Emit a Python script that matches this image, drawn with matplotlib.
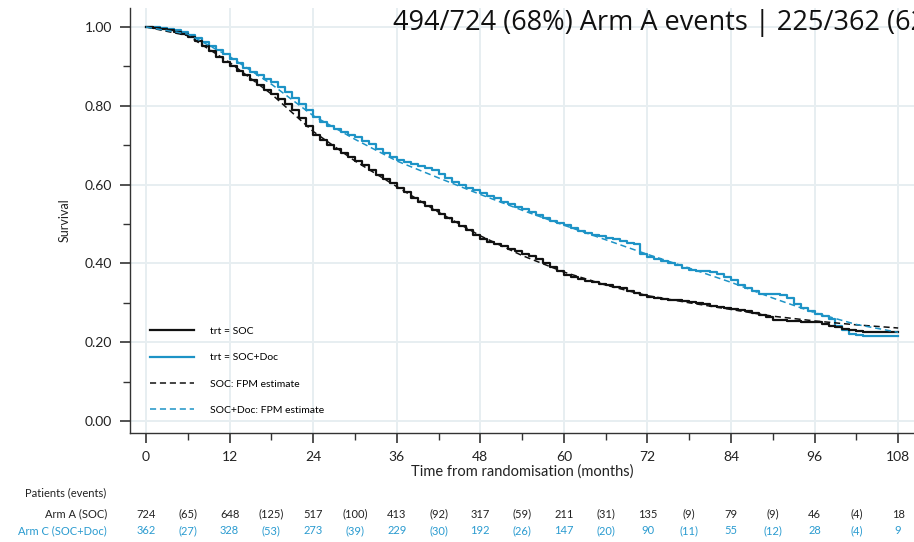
import matplotlib
matplotlib.use("Agg")
import matplotlib.pyplot as plt
import matplotlib.transforms as mtransforms
from matplotlib.lines import Line2D

# Kaplan-Meier survival, read month by month
km_months = list(range(0, 109))
km_soc = [1.000, 0.998, 0.996, 0.992, 0.988, 0.982, 0.975, 0.964, 0.952, 0.939,
          0.925, 0.912, 0.900, 0.889, 0.877, 0.865, 0.852, 0.841, 0.830, 0.818,
          0.805, 0.789, 0.770, 0.748, 0.725, 0.712, 0.700, 0.690, 0.680, 0.670,
          0.660, 0.649, 0.637, 0.625, 0.613, 0.603, 0.592, 0.580, 0.567, 0.557,
          0.546, 0.536, 0.525, 0.515, 0.505, 0.495, 0.485, 0.473, 0.462, 0.455,
          0.448, 0.443, 0.437, 0.431, 0.425, 0.418, 0.410, 0.400, 0.390, 0.380,
          0.371, 0.365, 0.360, 0.356, 0.352, 0.348, 0.344, 0.340, 0.337, 0.331,
          0.325, 0.319, 0.314, 0.312, 0.310, 0.308, 0.307, 0.305, 0.303, 0.300,
          0.297, 0.293, 0.290, 0.288, 0.285, 0.282, 0.279, 0.275, 0.270, 0.263,
          0.257, 0.256, 0.254, 0.253, 0.252, 0.251, 0.250, 0.246, 0.241, 0.238,
          0.234, 0.231, 0.228, 0.227, 0.227, 0.227, 0.227, 0.227, 0.227]
km_doc = [1.000, 0.999, 0.997, 0.995, 0.992, 0.987, 0.980, 0.971, 0.962, 0.952,
          0.942, 0.931, 0.920, 0.908, 0.897, 0.887, 0.877, 0.869, 0.860, 0.848,
          0.835, 0.820, 0.805, 0.789, 0.772, 0.760, 0.748, 0.740, 0.733, 0.727,
          0.720, 0.711, 0.702, 0.691, 0.680, 0.671, 0.663, 0.657, 0.652, 0.648,
          0.643, 0.636, 0.628, 0.617, 0.607, 0.599, 0.592, 0.585, 0.578, 0.572,
          0.565, 0.557, 0.550, 0.544, 0.537, 0.530, 0.522, 0.515, 0.508, 0.503,
          0.497, 0.490, 0.483, 0.478, 0.473, 0.469, 0.465, 0.461, 0.457, 0.453,
          0.449, 0.425, 0.415, 0.410, 0.405, 0.400, 0.395, 0.389, 0.383, 0.381,
          0.380, 0.379, 0.374, 0.365, 0.358, 0.345, 0.338, 0.330, 0.322, 0.322,
          0.322, 0.320, 0.312, 0.298, 0.287, 0.280, 0.272, 0.266, 0.260, 0.240,
          0.232, 0.222, 0.218, 0.216, 0.216, 0.216, 0.216, 0.216, 0.216]

# Flexible parametric model estimates
fpm_months = [0, 6, 12, 18, 24, 30, 36, 42, 48, 54, 60, 66, 72, 78, 84, 90, 96, 102, 108]
fpm_soc = [1.000, 0.978, 0.910, 0.830, 0.735, 0.660, 0.595, 0.530, 0.470, 0.420,
           0.378, 0.345, 0.318, 0.300, 0.283, 0.266, 0.254, 0.244, 0.236]
fpm_doc = [1.000, 0.982, 0.925, 0.855, 0.775, 0.715, 0.660, 0.617, 0.575, 0.535,
           0.497, 0.460, 0.423, 0.388, 0.352, 0.312, 0.275, 0.245, 0.225]

# Numbers at risk and events between time points
risk_months = [0, 12, 24, 36, 48, 60, 72, 84, 96, 108]
event_months = [6, 18, 30, 42, 54, 66, 78, 90, 102]
arm_a_at_risk = [724, 648, 517, 413, 317, 211, 135, 79, 46, 18]
arm_a_events = [65, 125, 100, 92, 59, 31, 9, 9, 4]
arm_c_at_risk = [362, 328, 273, 229, 192, 147, 90, 55, 28, 9]
arm_c_events = [27, 53, 39, 30, 26, 20, 11, 12, 4]

title_text = "494/724 (68%) Arm A events | 225/362 (62%) Arm C events"

BLACK = "#111111"
BLUE = "#1d93c6"
BLUE_TXT = "#2a9bd0"
GRID = "#e7eef1"
FONT = "Lato"

fig = plt.figure(figsize=(9.14, 5.42), dpi=100)
ax = fig.add_axes([0.1422, 0.2011, 0.858, 0.784])

ax.step(km_months, km_soc, where="post", color=BLACK, lw=1.6, zorder=4)
ax.step(km_months, km_doc, where="post", color=BLUE, lw=1.6, zorder=3)
ax.plot(fpm_months, fpm_soc, color=BLACK, lw=1.1, ls=(0, (4, 2.5)), zorder=5)
ax.plot(fpm_months, fpm_doc, color=BLUE, lw=1.1, ls=(0, (4, 2.5)), zorder=5)

ax.set_xlim(-2.3, 110.3)
ax.set_ylim(-0.0305, 1.048)
ax.set_xticks(risk_months)
ax.set_xticks(event_months, minor=True)
ax.set_yticks([0, 0.2, 0.4, 0.6, 0.8, 1.0])
ax.set_yticks([0.1, 0.3, 0.5, 0.7, 0.9], minor=True)
ax.set_yticklabels(["0.00", "0.20", "0.40", "0.60", "0.80", "1.00"])
ax.grid(True, which="major", color=GRID, lw=1.4, zorder=0)
for side in ("top", "right"):
    ax.spines[side].set_visible(False)
for side in ("left", "bottom"):
    ax.spines[side].set_color("#333333")
    ax.spines[side].set_linewidth(1.0)
ax.tick_params(which="major", length=7, width=1.2, color="#333333",
               labelsize=10, pad=6)
ax.tick_params(which="minor", length=5, width=1.0, color="#333333")
for lab in ax.get_xticklabels() + ax.get_yticklabels():
    lab.set_fontfamily(FONT)
    lab.set_color("#222222")

ax.set_xlabel("Time from randomisation (months)", fontsize=10.5, family=FONT,
              color="#222222", labelpad=1)
ax.set_ylabel("Survival", fontsize=9, family=FONT, color="#222222", labelpad=10)

handles = [
    Line2D([], [], color=BLACK, lw=1.6),
    Line2D([], [], color=BLUE, lw=1.6),
    Line2D([], [], color=BLACK, lw=1.1, ls=(0, (4, 2.5))),
    Line2D([], [], color=BLUE, lw=1.1, ls=(0, (4, 2.5))),
]
labels = ["trt = SOC", "trt = SOC+Doc", "SOC: FPM estimate", "SOC+Doc: FPM estimate"]
ax.legend(handles, labels, loc="lower left", bbox_to_anchor=(0.014, 0.02),
          frameon=False, prop={"family": FONT, "size": 7.5},
          handlelength=4.2, handletextpad=1.5, labelspacing=1.65)

fig.text(393 / 914, 1 - 23 / 542, title_text, fontsize=19.5, family="Open Sans",
         color="#111111", ha="left", va="center")

# Numbers-at-risk table under the axis
trans = mtransforms.blended_transform_factory(ax.transData, fig.transFigure)
y_a = 1 - 514 / 542
y_c = 1 - 531 / 542
fig.text(25 / 914, 1 - 493 / 542, "Patients (events)", fontsize=8, family=FONT,
         color="#222222", ha="left", va="center")
fig.text(107 / 914, y_a, "Arm A (SOC)", fontsize=8, family=FONT,
         color="#222222", ha="right", va="center")
fig.text(107 / 914, y_c, "Arm C (SOC+Doc)", fontsize=8, family=FONT,
         color=BLUE_TXT, ha="right", va="center")
for m, n in zip(risk_months, arm_a_at_risk):
    ax.text(m, y_a, str(n), transform=trans, fontsize=8, family=FONT,
            color="#222222", ha="center", va="center")
for m, n in zip(risk_months, arm_c_at_risk):
    ax.text(m, y_c, str(n), transform=trans, fontsize=8, family=FONT,
            color=BLUE_TXT, ha="center", va="center")
for m, e in zip(event_months, arm_a_events):
    ax.text(m, y_a, f"({e})", transform=trans, fontsize=8, family=FONT,
            color="#222222", ha="center", va="center")
for m, e in zip(event_months, arm_c_events):
    ax.text(m, y_c, f"({e})", transform=trans, fontsize=8, family=FONT,
            color=BLUE_TXT, ha="center", va="center")

fig.savefig("out.png", dpi=100)
